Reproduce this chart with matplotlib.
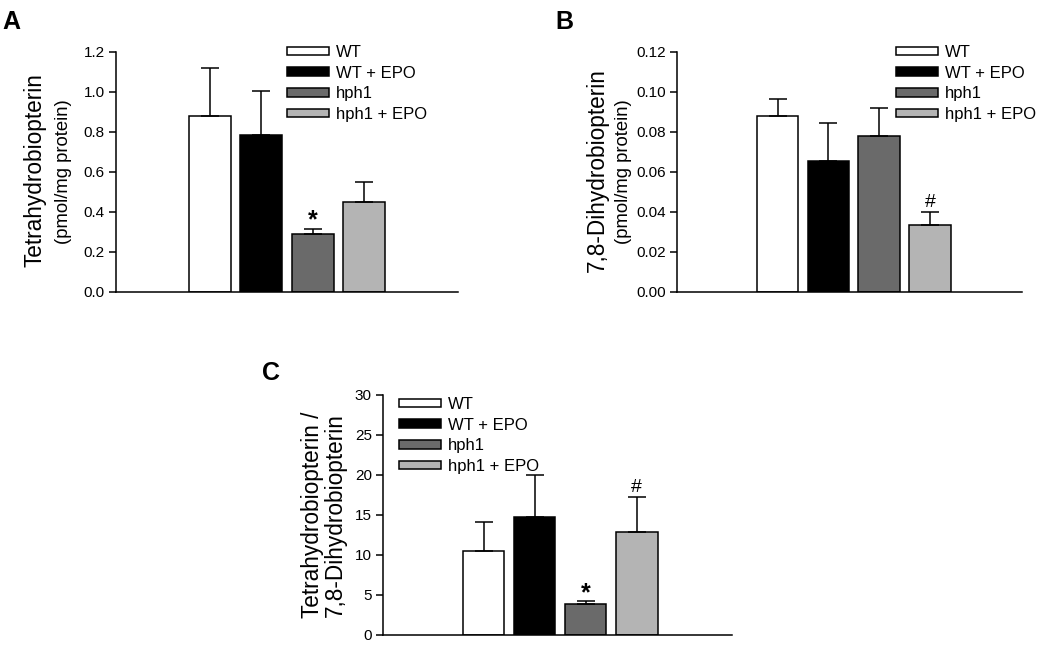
import matplotlib.pyplot as plt
from matplotlib.patches import Patch

plt.rcParams['font.family'] = ['Liberation Sans', 'DejaVu Sans']

groups = ['WT', 'WT + EPO', 'hph1', 'hph1 + EPO']
colors = ['#ffffff', '#000000', '#6a6a6a', '#b4b4b4']

# panel A: tetrahydrobiopterin (pmol/mg protein)
bh4 = [0.88, 0.785, 0.288, 0.45]
bh4_err = [0.24, 0.22, 0.025, 0.10]
# panel B: 7,8-dihydrobiopterin (pmol/mg protein)
bh2 = [0.088, 0.0653, 0.0778, 0.0335]
bh2_err = [0.0083, 0.019, 0.0144, 0.0067]
# panel C: ratio
ratio = [10.55, 14.77, 3.88, 12.93]
ratio_err = [3.63, 5.22, 0.41, 4.34]

W, H = 1050, 649
fig = plt.figure(figsize=(W / 100, H / 100), dpi=100)


def box(x0, y0, x1, y1):
    # pixel box -> figure fraction
    return [x0 / W, 1 - y1 / H, (x1 - x0) / W, (y1 - y0) / H]


def px(x, y):
    return x / W, 1 - y / H


def panel(rect, vals, errs, ylim, yticks, fmt, xlim):
    ax = fig.add_axes(rect)
    x = range(len(vals))
    ax.bar(x, vals, width=0.82, color=colors, edgecolor='black', linewidth=1.1,
           yerr=[[0] * len(vals), errs], capsize=6.5,
           error_kw=dict(elinewidth=1.1, capthick=1.1, ecolor='black'))
    ax.set_xlim(*xlim)
    ax.set_ylim(*ylim)
    ax.set_yticks(yticks)
    ax.set_yticklabels([fmt.format(t) for t in yticks], fontsize=11)
    ax.set_xticks([])
    for s in ['top', 'right']:
        ax.spines[s].set_visible(False)
    for s in ['left', 'bottom']:
        ax.spines[s].set_linewidth(1.1)
    ax.tick_params(axis='y', direction='out', length=5, width=1.1, pad=3)
    return ax


def add_legend(ax, anchor):
    handles = [Patch(facecolor=c, edgecolor='black', linewidth=1.1) for c in colors]
    ax.legend(handles, groups, loc='upper left', bbox_to_anchor=anchor,
              bbox_transform=fig.transFigure, frameon=False, fontsize=12,
              handlelength=2.5, handleheight=0.4, handletextpad=0.45,
              labelspacing=0.34, borderpad=0, borderaxespad=0)


# A
axA = panel(box(116, 52, 458, 292), bh4, bh4_err, (0, 1.2),
            [0, 0.2, 0.4, 0.6, 0.8, 1.0, 1.2], '{:.1f}', (-1.83, 4.83))
add_legend(axA, px(287, 45))
axA.text(2, bh4[2] + bh4_err[2] + 0.045, '*', ha='center', va='center',
         fontsize=18, fontweight='bold')

# B
axB = panel(box(677, 52, 1022, 292), bh2, bh2_err, (0, 0.12),
            [0, 0.02, 0.04, 0.06, 0.08, 0.10, 0.12], '{:.2f}', (-1.98, 4.81))
add_legend(axB, px(896, 45))
axB.text(3, bh2[3] + bh2_err[3] + 0.0047, '#', ha='center', va='center',
         fontsize=14)

# C
axC = panel(box(383, 395, 732, 635), ratio, ratio_err, (0, 30),
            [0, 5, 10, 15, 20, 25, 30], '{:.0f}', (-1.97, 4.87))
add_legend(axC, px(399, 397))
axC.text(2, ratio[2] + ratio_err[2] + 0.9, '*', ha='center', va='center',
         fontsize=18, fontweight='bold')
axC.text(3, ratio[3] + ratio_err[3] + 1.2, '#', ha='center', va='center',
         fontsize=14)

# y labels
fig.text(*px(35, 170), 'Tetrahydrobiopterin', rotation=90, ha='center',
         va='center', fontsize=16.3)
fig.text(*px(63, 172), '(pmol/mg protein)', rotation=90, ha='center',
         va='center', fontsize=13.3)
fig.text(*px(597, 170), '7,8-Dihydrobiopterin', rotation=90, ha='center',
         va='center', fontsize=16.3)
fig.text(*px(624, 172), '(pmol/mg protein)', rotation=90, ha='center',
         va='center', fontsize=13.3)
fig.text(*px(324, 515), 'Tetrahydrobiopterin /\n7,8-Dihydrobiopterin',
         rotation=90, ha='center', va='center', fontsize=16.3, linespacing=1.0)

# panel letters
fig.text(*px(2, 22), 'A', ha='left', va='center', fontsize=18, fontweight='bold')
fig.text(*px(555, 22), 'B', ha='left', va='center', fontsize=18, fontweight='bold')
fig.text(*px(262, 373), 'C', ha='left', va='center', fontsize=18, fontweight='bold')

fig.savefig('out.png', dpi=100, facecolor='white')
